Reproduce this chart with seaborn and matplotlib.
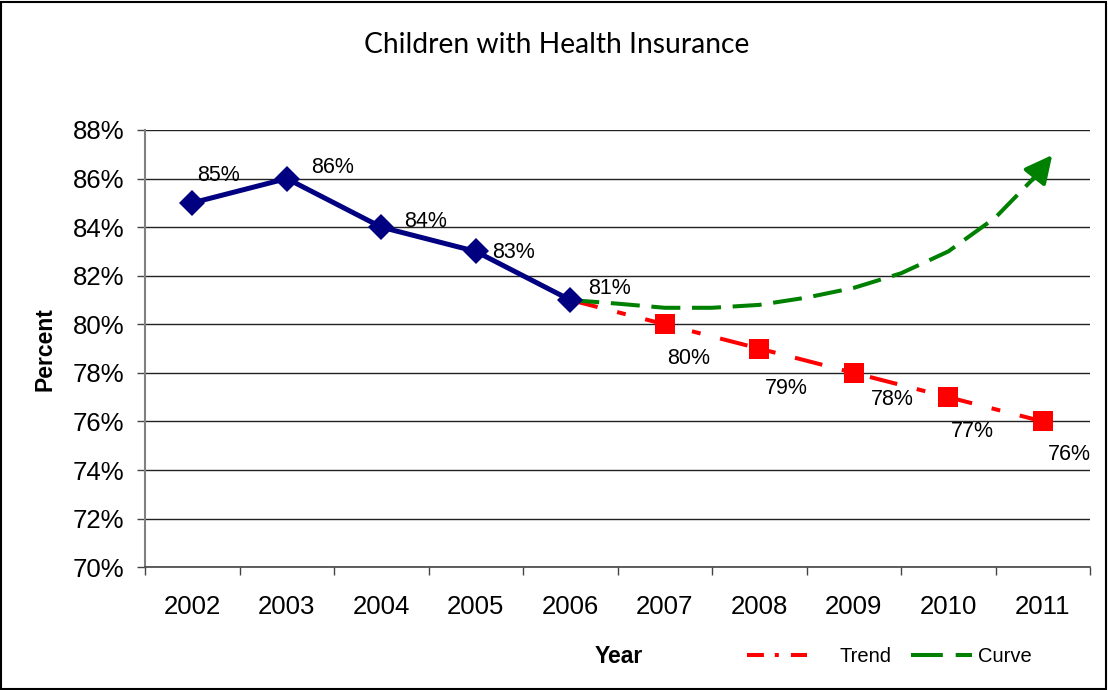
import matplotlib
matplotlib.use("Agg")
import matplotlib.pyplot as plt
import matplotlib.ticker as mticker
from matplotlib.patches import Rectangle
from matplotlib.lines import Line2D
import numpy as np
import pandas as pd
import seaborn as sns

# ---- data ----
years = ["2002", "2003", "2004", "2005", "2006", "2007", "2008", "2009", "2010", "2011"]
actual_values = [85, 86, 84, 83, 81]                # 2002-2006
trend_values = [81, 80, 79, 78, 77, 76]             # 2006-2011
curve_pos = [4.0, 4.5, 5.0, 5.5, 6.0, 6.5, 7.0, 7.5, 8.0, 8.5, 8.9]   # position on category axis
curve_values = [81.0, 80.85, 80.68, 80.68, 80.8, 81.1, 81.5, 82.1, 83.0, 84.4, 86.0]
arrow_tip = (9.1, 86.97)
y_ticks = [70, 72, 74, 76, 78, 80, 82, 84, 86, 88]
legend_labels = ["Trend", "Curve"]

sns.set_theme(style="white")
plt.rcParams["font.family"] = ["Liberation Sans", "DejaVu Sans"]
plt.rcParams["text.color"] = "black"
plt.rcParams["axes.labelcolor"] = "black"
plt.rcParams["xtick.color"] = "black"
plt.rcParams["ytick.color"] = "black"

fig = plt.figure(figsize=(11.08, 6.9), dpi=100)
ax = fig.add_axes([0.1309, 0.178, 0.8529, 0.6336])

idx_actual = list(range(len(actual_values)))
idx_trend = list(range(4, 4 + len(trend_values)))
df_a = pd.DataFrame({"x": idx_actual, "y": actual_values})
df_t = pd.DataFrame({"x": idx_trend, "y": trend_values})
df_c = pd.DataFrame({"x": curve_pos, "y": curve_values})

# gridlines
for v in y_ticks:
    ax.axhline(v, color="#222222", lw=1.0, zorder=0)

# trend line (no marker at 2006)
sns.lineplot(data=df_t, x="x", y="y", ax=ax, color="#ff0000", lw=2.9,
             linestyle=(0, (7, 5, 2.2, 5)), zorder=3)
sns.lineplot(data=df_t.iloc[1:], x="x", y="y", ax=ax, color="#ff0000", lw=0,
             marker="s", markersize=14, markeredgewidth=0, zorder=4)
# curve
sns.lineplot(data=df_c, x="x", y="y", ax=ax, color="#008000", lw=2.9,
             linestyle=(0, (7.2, 2.9)), zorder=3, sort=False)
ax.annotate("", xy=arrow_tip, xytext=(curve_pos[-1] - 0.01, curve_values[-1] - 0.05),
            arrowprops=dict(arrowstyle="-|>,head_length=1.4,head_width=0.7",
                            color="#008000", lw=2.9, shrinkA=0, shrinkB=0), zorder=3)
# actual
sns.lineplot(data=df_a, x="x", y="y", ax=ax, color="#000080", lw=3.6,
             marker="D", markersize=13, markeredgewidth=0, zorder=5)

# data labels
above_offsets = [(18.7, 20), (33, 8), (32, 4.3), (27, -0.7), (28, 8.6)]
for i, v in enumerate(actual_values):
    ax.annotate(f"{v}%", (idx_actual[i], v), xytext=above_offsets[i], textcoords="offset points",
                ha="center", va="center", fontsize=15.5, color="black")
below_offsets = [(17, -24.5), (19.4, -29), (28, -19), (17, -24.5), (19.4, -24)]
for j, v in enumerate(trend_values[1:]):
    ax.annotate(f"{v}%", (idx_trend[j + 1], v), xytext=below_offsets[j], textcoords="offset points",
                ha="center", va="center", fontsize=15.5, color="black")

# axes
ax.set_xlim(-0.5, 9.5)
ax.set_ylim(70, 88)
ax.set_yticks(y_ticks)
ax.yaxis.set_major_formatter(mticker.FuncFormatter(lambda v, p: f"{v:.0f}%"))
ax.set_xticks(np.arange(-0.5, 10, 1.0))
ax.set_xticklabels([])
ax.set_xticks(np.arange(len(years)), minor=True)
ax.set_xticklabels(years, minor=True)
ax.tick_params(axis="x", which="major", direction="out", length=6, width=1, color="#444444", bottom=True)
ax.tick_params(axis="x", which="minor", length=0, pad=20, labelsize=18.5)
ax.tick_params(axis="y", direction="out", length=6, width=1, color="#444444", left=True, labelsize=18.5, pad=9)
for s in ["top", "right"]:
    ax.spines[s].set_visible(False)
ax.spines["left"].set_color("#808080")
ax.spines["left"].set_linewidth(1.5)
ax.spines["bottom"].set_color("#444444")
ax.spines["bottom"].set_linewidth(1.2)
ax.set_xlabel("Year", fontsize=16.5, fontweight="bold")
ax.set_ylabel("Percent", fontsize=16.5, fontweight="bold")
ax.xaxis.set_label_coords(0.5012, -0.179)
ax.yaxis.set_label_coords(-0.094, 0.5)

# legend (proxy handles with the same colours / styles)
trend_handle = Line2D([], [], color="#ff0000", lw=2.9, linestyle=(0, (4.2, 2.7, 1.0, 3.0)))
curve_handle = Line2D([], [], color="#008000", lw=2.9, linestyle=(0, (7.9, 3.2)))
fig.legend([trend_handle], [legend_labels[0]], loc="center left", bbox_to_anchor=(0.674, 0.048),
           frameon=False, fontsize=14.5, handlelength=3.0, handletextpad=1.6, borderpad=0, borderaxespad=0)
fig.legend([curve_handle], [legend_labels[1]], loc="center left", bbox_to_anchor=(0.8225, 0.048),
           frameon=False, fontsize=14.5, handlelength=3.0, handletextpad=0.3, borderpad=0, borderaxespad=0)

fig.text(0.502, 0.935, "Children with Health Insurance", ha="center", va="center",
         fontsize=20.3, family=["Lato", "DejaVu Sans"])

fig.patches.append(Rectangle((0.001, 0.002), 0.997, 0.995, transform=fig.transFigure,
                             fill=False, edgecolor="black", lw=1.5))

fig.savefig("out.png", dpi=100)
